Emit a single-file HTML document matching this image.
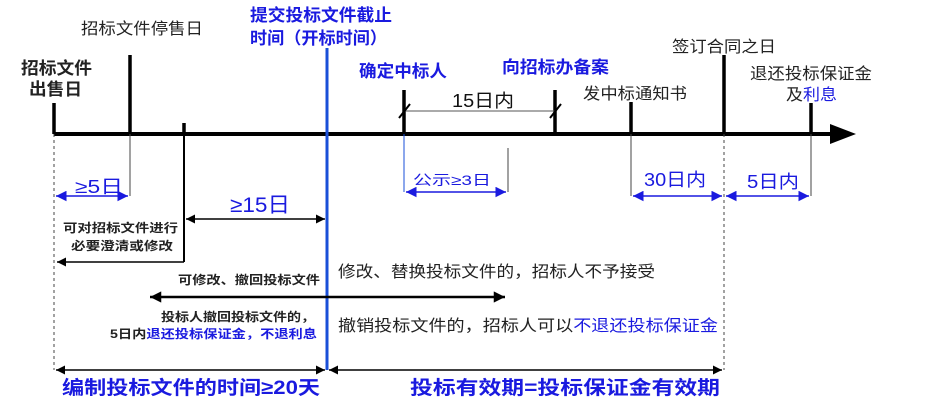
<!DOCTYPE html>
<html><head><meta charset="utf-8"><style>
body{margin:0;background:#fff}
svg{display:block}
text{font-family:"Liberation Sans","Noto Sans CJK SC",sans-serif}
.b{font-weight:bold}
</style></head><body>
<svg width="948" height="402" viewBox="0 0 948 402" xmlns="http://www.w3.org/2000/svg">
<defs>
<marker id="ak" viewBox="0 0 10 10" refX="10" refY="5" markerWidth="8" markerHeight="6" orient="auto-start-reverse"><path d="M0,0L10,5L0,10z" fill="#000"/></marker>
<marker id="ak2" viewBox="0 0 10 10" refX="10" refY="5" markerWidth="5" markerHeight="4.5" orient="auto-start-reverse"><path d="M0,0L10,5L0,10z" fill="#000"/></marker>
<marker id="ab" viewBox="0 0 10 10" refX="10" refY="5" markerWidth="9" markerHeight="7" orient="auto-start-reverse"><path d="M0,0L10,5L0,10z" fill="#1a1adf"/></marker>
</defs>
<line x1="54" y1="134" x2="832" y2="134" stroke="#000" stroke-width="4"/>
<path d="M830,124L856,134L830,144z" fill="#000"/>
<g stroke="#000" stroke-width="3.5">
<line x1="54" y1="103" x2="54" y2="134"/>
<line x1="130" y1="55" x2="130" y2="134"/>
<line x1="184" y1="123" x2="184" y2="134"/>
<line x1="404" y1="90" x2="404" y2="134"/>
<line x1="555" y1="90" x2="555" y2="134"/>
<line x1="631" y1="102" x2="631" y2="134"/>
<line x1="724" y1="55" x2="724" y2="134"/>
<line x1="811" y1="103" x2="811" y2="134"/>
</g>
<line x1="327" y1="48" x2="327" y2="370" stroke="#1a4fd8" stroke-width="3"/>
<line x1="404" y1="111" x2="555" y2="111" stroke="#555" stroke-width="1"/>
<line x1="399" y1="118" x2="410" y2="104" stroke="#000" stroke-width="2"/>
<line x1="550" y1="118" x2="561" y2="104" stroke="#000" stroke-width="2"/>
<text x="452" y="107" font-size="18" textLength="62" lengthAdjust="spacingAndGlyphs" fill="#111">15日内</text>
<g stroke="#444" stroke-width="1">
<line x1="54" y1="134" x2="54" y2="370" stroke-dasharray="3,3"/>
<line x1="130" y1="134" x2="130" y2="196"/>
<line x1="184" y1="134" x2="184" y2="262" stroke="#000" stroke-width="2"/>
<line x1="508" y1="148" x2="508" y2="192"/>
<line x1="631" y1="134" x2="631" y2="196"/>
<line x1="724" y1="134" x2="724" y2="370" stroke-dasharray="3,3"/>
<line x1="811" y1="134" x2="811" y2="196"/>
</g>
<line x1="404" y1="134" x2="404" y2="192" stroke="#1a4fd8" stroke-width="1"/>
<g stroke="#1a1adf" stroke-width="1.5">
<line x1="56" y1="196" x2="128" y2="196" marker-start="url(#ab)" marker-end="url(#ab)"/>
<line x1="406" y1="192" x2="506" y2="192" marker-start="url(#ab)" marker-end="url(#ab)"/>
<line x1="633" y1="196" x2="722" y2="196" marker-start="url(#ab)" marker-end="url(#ab)"/>
<line x1="726" y1="196" x2="809" y2="196" marker-start="url(#ab)" marker-end="url(#ab)"/>
</g>
<g stroke="#000" stroke-width="1.5">
<line x1="186" y1="219" x2="325" y2="219" marker-start="url(#ak)" marker-end="url(#ak)"/>
<line x1="184" y1="262" x2="57" y2="262" marker-end="url(#ak)"/>
<line x1="150" y1="297" x2="505" y2="297" marker-start="url(#ak2)" marker-end="url(#ak2)" stroke-width="2.5"/>
<line x1="56" y1="370" x2="325" y2="370" marker-start="url(#ak)" marker-end="url(#ak)"/>
<line x1="329" y1="370" x2="722" y2="370" marker-start="url(#ak)" marker-end="url(#ak)"/>
</g>
<g fill="#222" lengthAdjust="spacingAndGlyphs">
<text x="21" y="74" font-size="17" class="b" textLength="71" lengthAdjust="spacingAndGlyphs">招标文件</text>
<text x="29" y="95" font-size="17" class="b" textLength="53" lengthAdjust="spacingAndGlyphs">出售日</text>
<text x="81" y="34" font-size="16" textLength="122" lengthAdjust="spacingAndGlyphs">招标文件停售日</text>
<text x="672" y="52" font-size="16" textLength="104" lengthAdjust="spacingAndGlyphs">签订合同之日</text>
<text x="583" y="99" font-size="16" textLength="104" lengthAdjust="spacingAndGlyphs">发中标通知书</text>
<text x="750" y="79" font-size="16" textLength="122" lengthAdjust="spacingAndGlyphs">退还投标保证金</text>
<text x="786" y="100" font-size="16" textLength="51" lengthAdjust="spacingAndGlyphs">及<tspan fill="#1a1adf">利息</tspan></text>
<text x="63" y="232" font-size="12" class="b" textLength="115" lengthAdjust="spacingAndGlyphs">可对招标文件进行</text>
<text x="71" y="250" font-size="12" class="b" textLength="102" lengthAdjust="spacingAndGlyphs">必要澄清或修改</text>
<text x="178" y="284" font-size="12" class="b" textLength="142" lengthAdjust="spacingAndGlyphs">可修改、撤回投标文件</text>
<text x="338" y="277" font-size="16" textLength="317" lengthAdjust="spacingAndGlyphs">修改、替换投标文件的，招标人不予接受</text>
<text x="161" y="321" font-size="12" class="b" textLength="154" lengthAdjust="spacingAndGlyphs">投标人撤回投标文件的，</text>
<text x="110" y="338" font-size="12" class="b" textLength="207" lengthAdjust="spacingAndGlyphs">5日内<tspan fill="#1a1adf">退还投标保证金，不退利息</tspan></text>
<text x="338" y="331" font-size="16" textLength="380" lengthAdjust="spacingAndGlyphs">撤销投标文件的，招标人可以<tspan fill="#1a1adf">不退还投标保证金</tspan></text>
</g>
<g fill="#1a1adf">
<text x="250" y="21" font-size="17" class="b" textLength="142" lengthAdjust="spacingAndGlyphs">提交投标文件截止</text>
<text x="250" y="44" font-size="17" class="b" textLength="137" lengthAdjust="spacingAndGlyphs">时间（开标时间）</text>
<text x="359" y="77" font-size="17" class="b" textLength="88" lengthAdjust="spacingAndGlyphs">确定中标人</text>
<text x="502" y="73" font-size="17" class="b" textLength="107" lengthAdjust="spacingAndGlyphs">向招标办备案</text>
<text x="75" y="193" font-size="18" textLength="48" lengthAdjust="spacingAndGlyphs">≥5日</text>
<text x="413" y="185" font-size="14" textLength="78" lengthAdjust="spacingAndGlyphs">公示≥3日</text>
<text x="644" y="186" font-size="18" textLength="62" lengthAdjust="spacingAndGlyphs">30日内</text>
<text x="747" y="188" font-size="18" textLength="52" lengthAdjust="spacingAndGlyphs">5日内</text>
<text x="230" y="212" font-size="21" textLength="60" lengthAdjust="spacingAndGlyphs">≥15日</text>
<text x="62" y="394" font-size="19" class="b" textLength="258" lengthAdjust="spacingAndGlyphs">编制投标文件的时间≥20天</text>
<text x="410" y="394" font-size="19" class="b" textLength="310" lengthAdjust="spacingAndGlyphs">投标有效期=投标保证金有效期</text>
</g>
</svg>
</body></html>
